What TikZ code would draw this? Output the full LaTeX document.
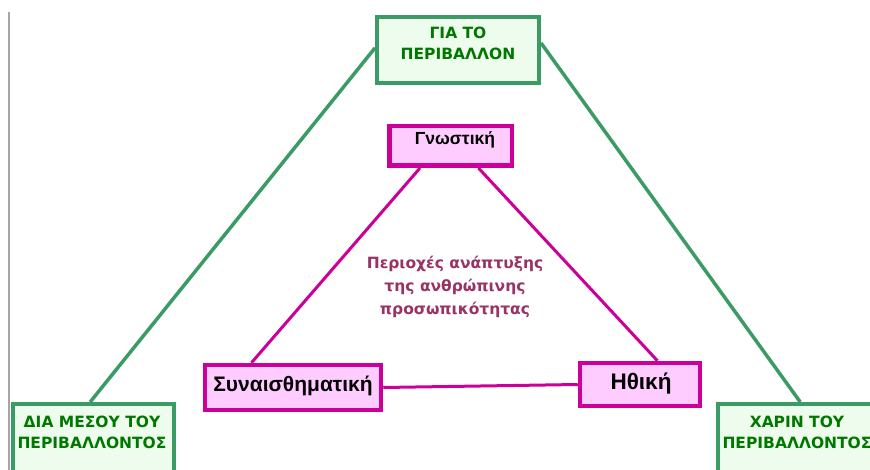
\documentclass[tikz,border=0pt]{standalone}
\usepackage{fontspec}
\setmainfont{DejaVu Sans}
\newfontfamily\lblfont{Liberation Sans}
\usetikzlibrary{calc}
\definecolor{gborder}{RGB}{58,155,100}
\definecolor{gfill}{RGB}{238,252,238}
\definecolor{gtext}{RGB}{0,120,0}
\definecolor{mborder}{RGB}{204,0,153}
\definecolor{mfill}{RGB}{255,204,255}
\definecolor{ctext}{RGB}{153,51,102}
\tikzset{
  gbox/.style={draw=gborder, fill=gfill, line width=4pt, rectangle, inner sep=0pt},
  gtxt/.style={align=center, text=gtext, font=\bfseries\fontsize{15.5}{21}\selectfont, inner sep=0pt},
  mbox/.style={draw=mborder, fill=mfill, line width=4.5pt, rectangle, inner sep=0pt},
  mtxt/.style={text=black, font=\lblfont\bfseries\fontsize{21}{24}\selectfont, inner sep=0pt},
  gline/.style={draw=gborder, line width=3.5pt},
  mline/.style={draw=mborder, line width=3pt},
  ctxt/.style={align=center, text=ctext, font=\bfseries\fontsize{15.5}{23}\selectfont, inner sep=0pt}
}
\begin{document}
\begin{tikzpicture}[x=1pt,y=-1pt]
\clip (0,0) rectangle (870,470);
\fill[white] (0,0) rectangle (870,470);
% gray side line
\draw[line width=2pt, draw=black!35] (9,12) -- (9,470);
% green boxes
\node[gbox, minimum width=162pt, minimum height=66pt] (top) at (458,50) {};
\node[gbox, minimum width=161pt, minimum height=76pt] (dl) at (93.5,442) {};
\node[gbox, minimum width=158pt, minimum height=76pt] (dr) at (797,442) {};
% green connectors
\draw[gline] ($(top.north west)!0.47!(top.south west)$) -- ($(dl.north west)!0.48!(dl.north east)$);
\draw[gline] ($(top.north east)!0.40!(top.south east)$) -- ($(dr.north west)!0.52!(dr.north east)$);
\draw[gline] ([yshift=-16pt]dl.south east) -- ([yshift=-16pt]dr.south west);
% redraw boxes over lines
\node[gbox, minimum width=162pt, minimum height=66pt] at (top) {};
\node[gbox, minimum width=161pt, minimum height=76pt] at (dl) {};
\node[gbox, minimum width=158pt, minimum height=76pt] at (dr) {};
% green texts
\node[gtxt] (toptext) at (458,43) {ΓΙΑ ΤΟ\\ΠΕΡΙΒΑΛΛΟΝ};
\node[gtxt] (dltext) at (92,432) {ΔΙΑ ΜΕΣΟΥ ΤΟΥ\\ΠΕΡΙΒΑΛΛΟΝΤΟΣ};
\node[gtxt] (drtext) at (797,432) {ΧΑΡΙΝ ΤΟΥ\\ΠΕΡΙΒΑΛΛΟΝΤΟΣ};
% magenta boxes
\node[mbox, minimum width=122.5pt, minimum height=39.5pt] (gn) at (450.5,146) {};
\node[mbox, minimum width=176pt, minimum height=45pt] (sy) at (293,387.5) {};
\node[mbox, minimum width=120pt, minimum height=43pt] (ith) at (640,384.5) {};
% magenta connectors
\draw[mline] ($(gn.south west)!0.26!(gn.south east)$) -- ($(sy.north west)!0.27!(sy.north east)$);
\draw[mline] ($(gn.south west)!0.72!(gn.south east)$) -- ($(ith.north west)!0.64!(ith.north east)$);
\draw[mline] (sy.east) -- (ith.west);
% labels
\node[mtxt, font=\lblfont\bfseries\fontsize{17.5}{20}\selectfont] (gntext) at (455,140) {Γνωστική};
\node[mtxt] (sytext) at (293,386) {Συναισθηματική};
\node[mtxt, font=\lblfont\bfseries\fontsize{22.5}{24}\selectfont] (ithtext) at (641,384) {Ηθική};
% centre text
\node[ctxt] (centre) at (455,287) {Περιοχές ανάπτυξης\\της ανθρώπινης\\προσωπικότητας};
\end{tikzpicture}
\end{document}
